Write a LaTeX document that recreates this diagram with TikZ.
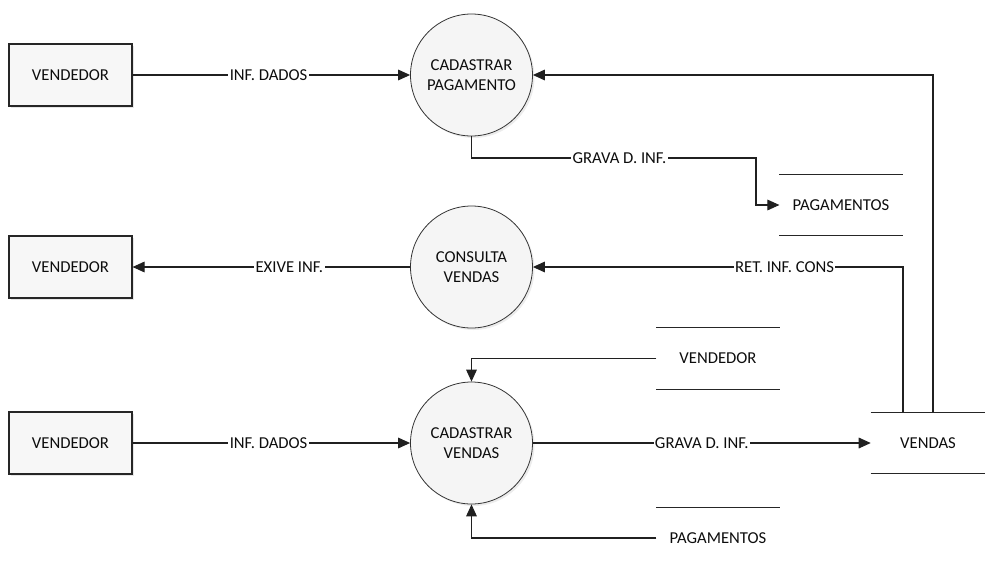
\documentclass[tikz,border=0pt]{standalone}
\usepackage{fontspec}
\setmainfont{Carlito}
\usetikzlibrary{arrows.meta,shadows}

\begin{document}
\begin{tikzpicture}[x=0.75pt, y=-0.75pt,
  font=\fontsize{12.5}{15}\selectfont,
  entity/.style={draw=gray!30!black, line width=1.1pt, fill=gray!6, minimum width=92pt, minimum height=46.5pt, text=gray!10!black, drop shadow={shadow xshift=1.5pt, shadow yshift=-1.5pt, opacity=0.2}},
  proc/.style={circle, draw=gray!40!black, line width=0.6pt, fill=gray!8, minimum size=91.5pt, align=center, inner sep=0pt, text=gray!10!black, drop shadow={shadow xshift=1.5pt, shadow yshift=-1.5pt, opacity=0.15}},
  store/.style={minimum width=92pt, minimum height=46pt, inner sep=0pt, text=gray!10!black},
  storeline/.style={draw=gray!30!black, line width=0.8pt},
  flow/.style={draw=gray!25!black, line width=0.8pt, -{Triangle[length=9pt, width=8pt]}},
  lbl/.style={fill=white, inner sep=1pt, text=gray!10!black}]

\useasboundingbox (0,0) rectangle (985,565);

% -------- Entities -----------
\node[entity]  (ven1)  at  (70.5, 75)  {VENDEDOR};
\node[entity]  (ven2)  at  (70.5, 267) {VENDEDOR};
\node[entity]  (ven3)  at  (70.5, 443) {VENDEDOR};

% -------- Processes -----------
\node[proc]  (cadpag)  at  (471.5, 75)  {CADASTRAR\\PAGAMENTO};
\node[proc]  (convend) at  (471.5, 267) {CONSULTA\\VENDAS};
\node[proc]  (cadvend) at  (471.5, 443) {CADASTRAR\\VENDAS};

% -------- Stores -----------
\node[store]  (pagst)  at  (841, 205)   {PAGAMENTOS};
\node[store]  (venst)  at  (718, 358.5) {VENDEDOR};
\node[store, minimum width=85.5pt]  (vendst) at  (928, 443)   {VENDAS};
\node[store]  (pagst2) at  (718, 538)   {PAGAMENTOS};

\draw[storeline]  (pagst.north west) -- (pagst.north east);
\draw[storeline]  (pagst.south west) -- (pagst.south east);
\draw[storeline]  (venst.north west) -- (venst.north east);
\draw[storeline]  (venst.south west) -- (venst.south east);
\draw[storeline]  (vendst.north west) -- (vendst.north east);
\draw[storeline]  (vendst.south west) -- (vendst.south east);
\draw[storeline]  (pagst2.north west) -- (pagst2.north east);

\coordinate  (vtopA)  at  (933, 412.3);
\coordinate  (vtopB)  at  (903, 412.3);
\coordinate  (gbend)  at  (756, 158);

% -------- Flows -----------
\draw[flow]  (ven1) -- node[lbl, pos=0.49] {INF. DADOS} (cadpag);
\draw[flow]  (vtopA) |- (cadpag);
\draw[flow]  (cadpag.south) |- node[lbl, pos=0.76] {GRAVA D. INF.} (gbend) |- (pagst.west);

% Second row
\draw[flow]  (convend) -- node[lbl, pos=0.435] {EXIVE INF.} (ven2);
\draw[flow]  (vtopB) |- node[lbl, pos=0.66] {RET. INF. CONS} (convend);

% Third row
\draw[flow]  (venst.west) -| (cadvend);
\draw[flow]  (pagst2.west) -| (cadvend);
\draw[flow]  (ven3) -- node[lbl, pos=0.49] {INF. DADOS} (cadvend);
\draw[flow]  (cadvend) -- node[lbl] {GRAVA D. INF.} (vendst.west);

\end{tikzpicture}
\end{document}
